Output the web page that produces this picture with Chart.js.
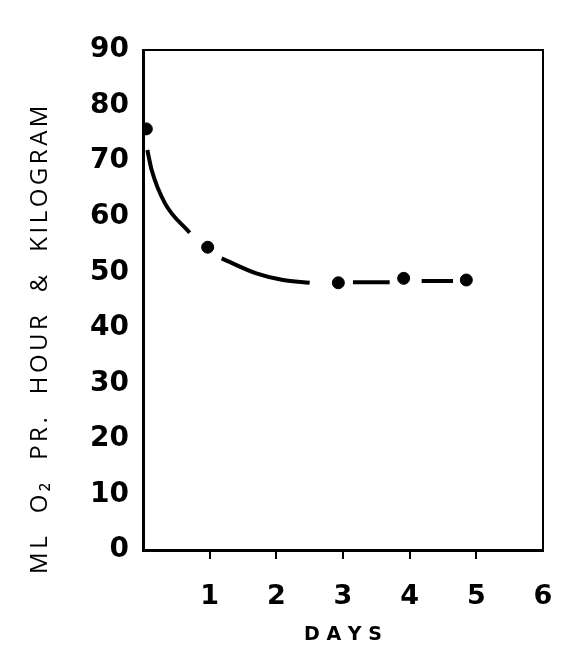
<!DOCTYPE html>
<html>
<head>
<meta charset="utf-8">
<script src="https://cdn.jsdelivr.net/npm/chart.js@4"></script>
<style>
  html, body { margin: 0; padding: 0; background: #fff; }
  #wrap { width: 585px; height: 662px; }
</style>
</head>
<body>
<div id="wrap"><canvas id="c" width="585" height="662"></canvas></div>
<script>
// Measured points (days, ml O2 per hour & kilogram)
const pointDays = [0.05, 0.97, 2.93, 3.91, 4.85];
const pointO2 = [75.8, 54.5, 48.1, 48.9, 48.6];

// Hand-drawn fitted curve (null = gap in the drawn line)
const curveDays = [0.065, 0.13, 0.33, 0.70, 0.85, 1.18, 1.70, 2.10, 2.50, 2.7, 3.15, 3.70, 3.8, 4.18, 4.65];
const curveO2   = [72.0, 68.4, 62.4, 57.1, null, 52.5, 49.8, 48.6, 48.1, null, 48.2, 48.2, null, 48.4, 48.4];

const xTicks = [0, 1, 2, 3, 4, 5, 6];
const xTickLabels = ['', '1', '2', '3', '4', '5', '6'];
const yTicks = [0, 10, 20, 30, 40, 50, 60, 70, 80, 90];

const yTitle = 'ML  O\u2082  PR.  HOUR  &  KILOGRAM';
const xTitle = 'D A Y S';

const curveData = curveDays.map((d, i) => ({ x: d, y: curveO2[i] }));
const pointData = pointDays.map((d, i) => ({ x: d, y: pointO2[i] }));

const framePlugin = {
  id: 'frame',
  afterDraw(chart) {
    const { ctx, chartArea: a } = chart;
    ctx.save();
    ctx.strokeStyle = '#000';
    ctx.lineWidth = 2;
    ctx.beginPath();
    ctx.moveTo(a.left, a.top);
    ctx.lineTo(a.right, a.top);
    ctx.lineTo(a.right, a.bottom);
    ctx.stroke();
    // y axis title (rotated)
    ctx.fillStyle = '#000';
    ctx.font = '24px "Open Sans"';
    try { ctx.letterSpacing = '3.5px'; } catch (e) {}
    ctx.translate(40, 338);
    ctx.rotate(-Math.PI / 2);
    ctx.textAlign = 'center';
    ctx.textBaseline = 'middle';
    ctx.fillText(yTitle, 0, 0);
    ctx.restore();
  }
};

new Chart(document.getElementById('c'), {
  type: 'scatter',
  data: {
    datasets: [
      {
        type: 'line',
        data: curveData,
        borderColor: '#000',
        borderWidth: 4,
        pointRadius: 0,
        tension: 0.4,
        cubicInterpolationMode: 'monotone',
        spanGaps: false,
        fill: false
      },
      {
        type: 'scatter',
        data: pointData,
        backgroundColor: '#000',
        borderColor: '#000',
        pointRadius: 6,
        pointHoverRadius: 6
      }
    ]
  },
  options: {
    responsive: false,
    animation: false,
    events: [],
    layout: { padding: { left: 0, right: 42, top: 50, bottom: 0 } },
    plugins: { legend: { display: false }, tooltip: { enabled: false } },
    scales: {
      x: {
        type: 'linear',
        min: 0, max: 6,
        afterBuildTicks(scale) { scale.ticks = xTicks.map(v => ({ value: v })); },
        afterFit(scale) { scale.height = 112; },
        border: { display: true, color: '#000', width: 3 },
        grid: {
          drawOnChartArea: false,
          drawTicks: true,
          tickLength: 9,
          lineWidth: 2,
          color: (c) => (c.tick && (c.tick.value === 0 || c.tick.value === 6)) ? 'rgba(0,0,0,0)' : '#000'
        },
        ticks: {
          padding: 22,
          color: '#000',
          font: { family: '"DejaVu Sans"', size: 27, weight: 'bold' },
          callback: (v) => xTickLabels[xTicks.indexOf(v)],
          maxRotation: 0,
          autoSkip: false
        },
        title: {
          display: true,
          text: xTitle,
          color: '#000',
          font: { family: '"DejaVu Sans"', size: 19, weight: 'bold' },
          padding: { top: 0, bottom: 16 }
        }
      },
      y: {
        type: 'linear',
        min: 0, max: 90,
        afterBuildTicks(scale) { scale.ticks = yTicks.map(v => ({ value: v })); },
        afterFit(scale) { scale.width = 143; },
        border: { display: true, color: '#000', width: 3 },
        grid: { drawOnChartArea: false, drawTicks: false },
        ticks: {
          padding: 14,
          color: '#000',
          font: { family: '"DejaVu Sans"', size: 28, weight: 'bold' }
        }
      }
    }
  },
  plugins: [framePlugin]
});
</script>
</body>
</html>
